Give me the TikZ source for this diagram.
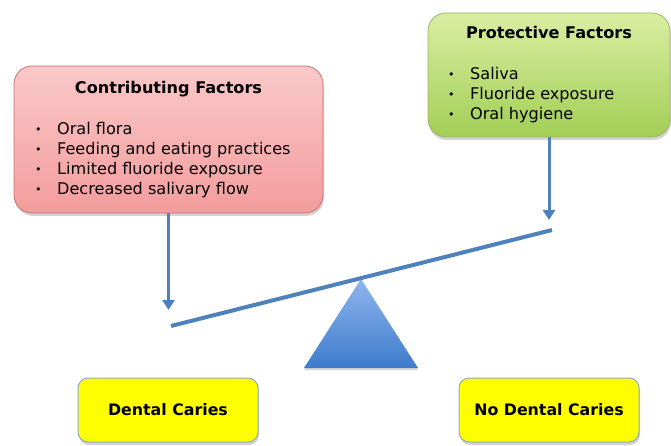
\documentclass[tikz,border=0pt]{standalone}
\usepackage{fontspec}
\setmainfont{DejaVu Sans}
\usepackage[x11names]{xcolor}
\usepackage{tikz}
\usetikzlibrary{arrows.meta, positioning, shadows}

\definecolor{contribtop}{HTML}{FAC8C8}
\definecolor{contribbot}{HTML}{F49C9C}
\definecolor{contribline}{HTML}{CC7070}
\definecolor{protecttop}{HTML}{DAEEA2}
\definecolor{protectbot}{HTML}{A2CE55}
\definecolor{protectline}{HTML}{9CB56C}
\definecolor{outcomefill}{HTML}{FFFF00}
\definecolor{outcomeline}{HTML}{8FA8C8}
\definecolor{beamblue}{HTML}{4F81BD}
\definecolor{pivottop}{HTML}{8EB5EE}
\definecolor{pivotbot}{HTML}{3E7BCB}

\newcommand{\bul}{\makebox[22pt][l]{\raisebox{0.5pt}{\fontsize{11}{11}\selectfont\textbullet}}}

\begin{document}
\begin{tikzpicture}
                            [x=1pt, y=-1pt,
                             font=\fontsize{16.1}{20}\selectfont,
                             factorbox/.style={draw, line width=0.8pt, inner sep=0pt, rounded corners=18pt,
                                               drop shadow={opacity=0.35, shadow xshift=1pt, shadow yshift=-3pt}},
                             outcome/.style={draw=outcomeline, fill=outcomefill, line width=1pt, inner sep=0pt,
                                             rounded corners=10pt, minimum width=180pt, minimum height=64pt,
                                             font=\fontsize{15.8}{20}\selectfont\bfseries,
                                             drop shadow={opacity=0.35, shadow xshift=1pt, shadow yshift=-3pt}},
                             heading/.style={inner sep=0pt, font=\fontsize{16.1}{20}\selectfont\bfseries},
                             itemlist/.style={inner sep=0pt, align=left, anchor=north west},
                             link/.style={draw=beamblue, line width=3pt, -{Triangle[width=12pt, length=10pt]}},
                             beam/.style={draw=beamblue, line width=4pt}]

    \useasboundingbox (0,0) rectangle (671,446);

    % factor boxes
    \node[factorbox, draw=contribline, top color=contribtop, bottom color=contribbot,
          minimum width=309pt, minimum height=147pt] (contrib) at (168.5,139.5) {};
    \node[heading, below=15pt of contrib.north] (contribtitle) {Contributing Factors};
    \node[itemlist] (contriblist) at (35,122)
        {\bul Oral flora\\ \bul Feeding and eating practices\\ \bul Limited fluoride exposure\\ \bul Decreased salivary flow};

    \node[factorbox, draw=protectline, top color=protecttop, bottom color=protectbot,
          minimum width=242pt, minimum height=124pt] (protect) at (549,75) {};
    \node[heading, below=13pt of protect.north] (protecttitle) {Protective Factors};
    \node[itemlist] (protectlist) at (448,67)
        {\bul Saliva\\ \bul Fluoride exposure\\ \bul Oral hygiene};

    % seesaw
    \coordinate (leftend) at (171,326);
    \coordinate (rightend) at (552,230);
    \coordinate (apex) at (361,279);
    \coordinate (baseleft) at (304,368);
    \coordinate (baseright) at (418,368);

    \path[top color=pivottop, bottom color=pivotbot,
          drop shadow={opacity=0.3, shadow xshift=0pt, shadow yshift=-2pt}]
        (apex) -- (baseright) -- (baseleft) -- cycle;
    \draw[beam] (leftend) -- (rightend);

    \draw[link] (contrib.south) -- ([yshift=16pt]contrib.south |- leftend);
    \draw[link] (protect.south) -- ([yshift=10pt]protect.south |- rightend);

    % outcomes
    \node[outcome] (caries) at (168,410) {Dental Caries};
    \node[outcome] (nocaries) at (549,410) {No Dental Caries};
\end{tikzpicture}
\end{document}
